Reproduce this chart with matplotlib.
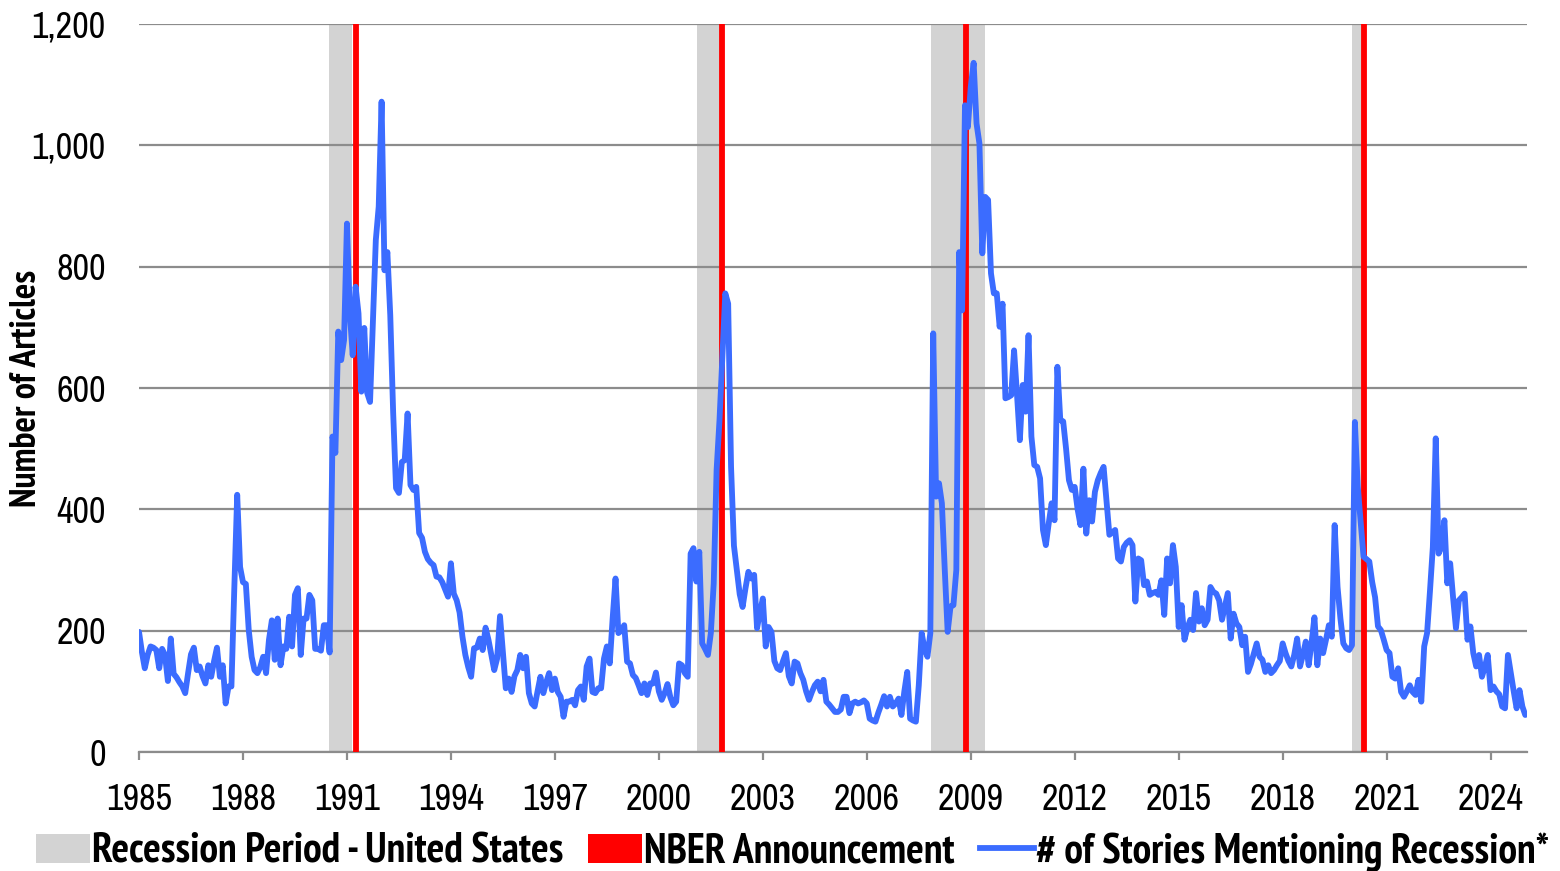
import numpy as np
import matplotlib
matplotlib.use("Agg")
import matplotlib.pyplot as plt
from matplotlib.patches import Patch
from matplotlib.lines import Line2D
from matplotlib.ticker import FuncFormatter

plt.rcParams['font.family'] = ['Archivo Narrow', 'Roboto Condensed', 'PT Sans Narrow',
                               'Liberation Sans', 'DejaVu Sans']
BOLD_FAMILY = ['PT Sans Narrow', 'Roboto Condensed', 'Archivo Narrow', 'Liberation Sans']

# monthly counts, Jan 1985 .. Jan 2025
stories = (
    [198, 165, 138, 160, 174, 172, 168, 138, 170, 160, 117, 187]      # 1985
    + [129, 123, 115, 108, 97, 130, 161, 172, 135, 141, 125, 113]     # 1986
    + [143, 124, 150, 172, 124, 143, 80, 108, 108, 270, 424, 305]     # 1987
    + [280, 277, 201, 157, 135, 130, 140, 157, 130, 185, 217, 152]    # 1988
    + [220, 143, 174, 170, 223, 174, 259, 270, 160, 220, 220, 259]    # 1989
    + [250, 170, 170, 167, 209, 209, 164, 520, 493, 693, 646, 679]    # 1990
    + [871, 723, 654, 767, 723, 594, 699, 592, 577, 710, 844, 899]    # 1991
    + [1072, 794, 824, 720, 560, 435, 427, 478, 481, 558, 440, 432]   # 1992
    + [437, 361, 353, 330, 318, 312, 308, 289, 288, 280, 268, 256]    # 1993
    + [311, 261, 250, 230, 190, 160, 140, 124, 171, 172, 187, 168]    # 1994
    + [205, 185, 160, 135, 154, 224, 165, 105, 121, 99, 125, 135]     # 1995
    + [160, 138, 157, 97, 80, 75, 100, 124, 97, 115, 130, 102]        # 1996
    + [121, 99, 91, 58, 83, 83, 86, 77, 102, 108, 86, 141]            # 1997
    + [154, 99, 97, 105, 105, 154, 174, 146, 220, 286, 196, 200]      # 1998
    + [209, 149, 146, 127, 122, 110, 97, 113, 94, 113, 113, 131]      # 1999
    + [100, 86, 97, 112, 90, 77, 83, 146, 143, 130, 124, 327]         # 2000
    + [336, 281, 330, 179, 170, 160, 196, 278, 465, 547, 650, 756]    # 2001
    + [739, 470, 340, 300, 260, 239, 270, 297, 286, 292, 204, 230]    # 2002
    + [253, 174, 206, 198, 150, 138, 135, 150, 163, 125, 113, 149]    # 2003
    + [146, 130, 119, 100, 86, 99, 110, 116, 100, 119, 83, 78]        # 2004
    + [72, 66, 66, 70, 91, 91, 64, 80, 83, 80, 82, 85]                # 2005
    + [80, 55, 52, 50, 65, 78, 92, 75, 91, 75, 80, 88]                # 2006
    + [61, 100, 132, 55, 52, 50, 110, 196, 170, 157, 196, 690]        # 2007
    + [421, 443, 410, 300, 198, 240, 242, 300, 824, 728, 1066, 1030]  # 2008
    + [1096, 1136, 1036, 1003, 822, 915, 910, 789, 756, 756, 701, 739]  # 2009
    + [583, 585, 588, 662, 590, 514, 605, 561, 687, 520, 473, 470]    # 2010
    + [451, 366, 341, 377, 410, 382, 635, 547, 545, 500, 448, 432]    # 2011
    + [437, 400, 374, 467, 360, 415, 380, 429, 448, 460, 470, 415]    # 2012
    + [358, 362, 366, 319, 314, 338, 345, 349, 341, 248, 319, 316]    # 2013
    + [275, 281, 259, 262, 264, 259, 283, 226, 319, 278, 341, 305]    # 2014
    + [206, 242, 185, 204, 218, 201, 262, 215, 237, 209, 218, 272]    # 2015
    + [264, 261, 250, 218, 240, 262, 187, 228, 212, 206, 176, 190]    # 2016
    + [132, 145, 162, 179, 157, 152, 132, 143, 130, 135, 143, 150]    # 2017
    + [179, 163, 150, 141, 160, 187, 141, 160, 182, 143, 180, 222]    # 2018
    + [143, 187, 163, 185, 209, 190, 374, 272, 220, 179, 171, 168]    # 2019
    + [176, 544, 437, 380, 322, 318, 314, 280, 255, 207, 201, 185]    # 2020
    + [168, 163, 124, 121, 138, 99, 91, 100, 110, 99, 94, 119]        # 2021
    + [83, 174, 196, 265, 338, 517, 327, 338, 382, 278, 311, 255]     # 2022
    + [204, 250, 255, 261, 185, 207, 163, 141, 160, 124, 140, 160]    # 2023
    + [102, 108, 100, 95, 75, 72, 160, 130, 100, 72, 102, 75]         # 2024
    + [61]                                                            # 2025
)
start_year = 1985

recession_start = [1990.49, 2001.11, 2007.86, 2019.99]
recession_end = [1991.15, 2001.77, 2009.42, 2020.31]
nber_dates = [1991.26, 2001.83, 2008.87, 2020.34]

year_ticks = list(range(1985, 2025, 3))
y_ticks = [0, 200, 400, 600, 800, 1000, 1200]

months = start_year + np.arange(len(stories)) / 12.0

fig = plt.figure(figsize=(15.6, 8.71), dpi=100)
ax = fig.add_axes([139 / 1560, 1 - 752 / 871, (1527 - 139) / 1560, (752 - 24) / 871])

for s, e in zip(recession_start, recession_end):
    ax.axvspan(s, e, color="#d3d3d3", lw=0, zorder=0)
ax.yaxis.grid(True, color="#8c8c8c", lw=1.6, zorder=1)
ax.set_axisbelow(True)
for d in nber_dates:
    ax.axvline(d, color="#ff0000", lw=4.2, zorder=2)
ax.plot(months, stories, color="#3b6cff", lw=4.2, solid_joinstyle="round",
        solid_capstyle="round", zorder=3)

ax.set_xlim(1985, 2025.05)
ax.set_ylim(0, 1200)
ax.set_xticks(year_ticks)
ax.set_yticks(y_ticks)
ax.yaxis.set_major_formatter(FuncFormatter(lambda v, p: f"{v:,.0f}"))

for side in ["top", "right", "left"]:
    ax.spines[side].set_visible(False)
ax.spines["bottom"].set_color("#8c8c8c")
ax.spines["bottom"].set_linewidth(1.6)
ax.spines["bottom"].set_zorder(1)
ax.tick_params(axis="x", length=6, width=1.6, color="#8c8c8c", pad=16, labelsize=26)
ax.tick_params(axis="y", length=0, pad=24, labelsize=26)

fig.text(27 / 1560, 1 - 388 / 871, "Number of Articles", rotation=90,
         ha="center", va="center", fontsize=26, fontweight="bold",
         family=BOLD_FAMILY)

handles = [
    Patch(facecolor="#d3d3d3", edgecolor="none"),
    Patch(facecolor="#ff0000", edgecolor="none"),
    Line2D([0], [0], color="#3b6cff", lw=4.2),
]
labels = ["Recession Period - United States", "NBER Announcement",
          "# of Stories Mentioning Recession*"]
fig.legend(handles, labels, loc="lower center", bbox_to_anchor=(0.508, -0.025),
           ncol=3, frameon=False,
           prop={"weight": "bold", "size": 30, "family": BOLD_FAMILY},
           handlelength=1.3, handletextpad=0.05, columnspacing=0.6,
           borderaxespad=0.1)

fig.savefig("out.png", dpi=100)
